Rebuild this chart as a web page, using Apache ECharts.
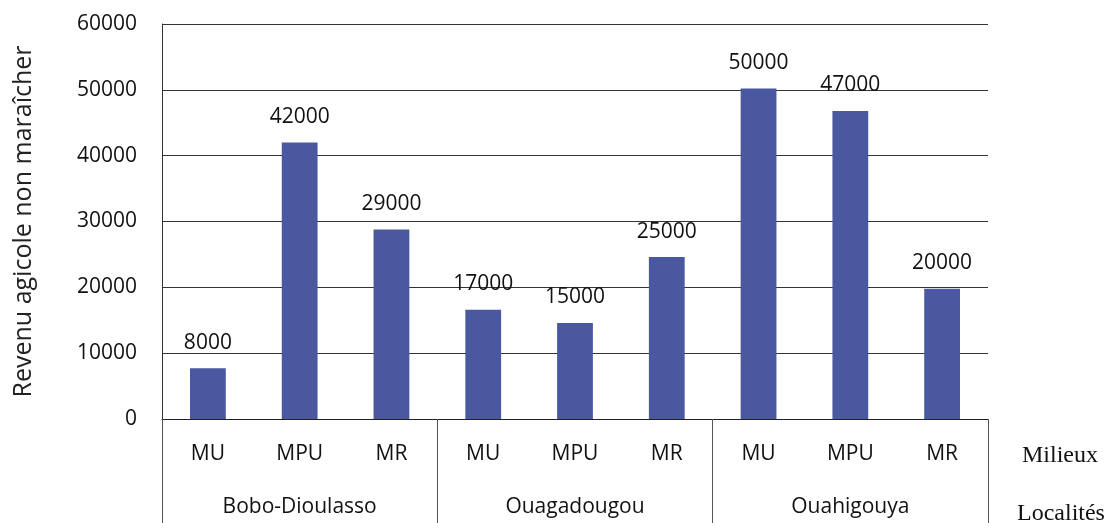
<!DOCTYPE html>
<html>
<head>
<meta charset="utf-8">
<script src="https://cdn.jsdelivr.net/npm/echarts@6/dist/echarts.min.js"></script>
<style>
  html, body { margin: 0; padding: 0; background: #fff; }
  #chart { width: 1108px; height: 523px; }
</style>
</head>
<body>
<div id="chart"></div>
<script>
  // localités (groupes) et milieux (sous-catégories)
  var localites = ['Bobo-Dioulasso', 'Ouagadougou', 'Ouahigouya'];
  var milieux = ['MU', 'MPU', 'MR', 'MU', 'MPU', 'MR', 'MU', 'MPU', 'MR'];
  // hauteur des barres
  var revenus = [7700, 42000, 28800, 16600, 14600, 24600, 50200, 46800, 19800];
  // étiquettes affichées au-dessus des barres
  var etiquettes = ['8000', '42000', '29000', '17000', '15000', '25000', '50000', '47000', '20000'];
  var yMin = 0;
  var yMax = 60000;
  var yStep = 10000;

  var sans = '"Open Sans", "Noto Sans", sans-serif';
  var serif = '"Liberation Serif", "DejaVu Serif", serif';

  var chart = echarts.init(document.getElementById('chart'));

  chart.setOption({
    animation: false,
    grid: {
      left: 162,
      right: 120,
      top: 24,
      bottom: 104,
      containLabel: false
    },
    xAxis: [
      {
        type: 'category',
        data: milieux,
        position: 'bottom',
        axisLine: { show: true, lineStyle: { color: '#222', width: 1 } },
        axisTick: { show: false },
        axisLabel: {
          margin: 25,
          fontFamily: sans,
          fontSize: 21,
          color: '#111',
          interval: 0
        },
        splitLine: { show: false }
      },
      {
        type: 'category',
        data: localites,
        position: 'bottom',
        axisLine: { show: false },
        axisTick: {
          show: true,
          length: 104,
          lineStyle: { color: '#555', width: 1 }
        },
        axisLabel: {
          margin: 78,
          fontFamily: sans,
          fontSize: 21,
          color: '#111',
          interval: 0
        },
        splitLine: { show: false }
      }
    ],
    yAxis: {
      type: 'value',
      min: yMin,
      max: yMax,
      interval: yStep,
      name: 'Revenu agicole non maraîcher',
      nameLocation: 'middle',
      nameRotate: 90,
      nameGap: 126,
      nameTextStyle: {
        fontFamily: sans,
        fontSize: 25,
        color: '#222'
      },
      axisLine: { show: true, lineStyle: { color: '#333', width: 1 } },
      axisTick: { show: false },
      axisLabel: {
        margin: 25,
        fontFamily: sans,
        fontSize: 21,
        color: '#111',
        formatter: function (v) { return String(v); }
      },
      splitLine: { show: true, lineStyle: { color: '#333', width: 1 } }
    },
    series: [
      {
        type: 'bar',
        xAxisIndex: 0,
        data: revenus,
        barWidth: '39%',
        itemStyle: { color: '#4a58a0' },
        label: {
          show: true,
          position: 'top',
          distance: 15,
          fontFamily: sans,
          fontSize: 21,
          color: '#111',
          formatter: function (p) {
            return etiquettes[p.dataIndex];
          }
        }
      }
    ],
    graphic: [
      {
        type: 'text',
        left: 1022,
        top: 444,
        style: { text: 'Milieux', font: '24px ' + serif, fill: '#111' }
      },
      {
        type: 'text',
        left: 1017,
        top: 502,
        style: { text: 'Localités', font: '24px ' + serif, fill: '#111' }
      }
    ]
  });
</script>
</body>
</html>
